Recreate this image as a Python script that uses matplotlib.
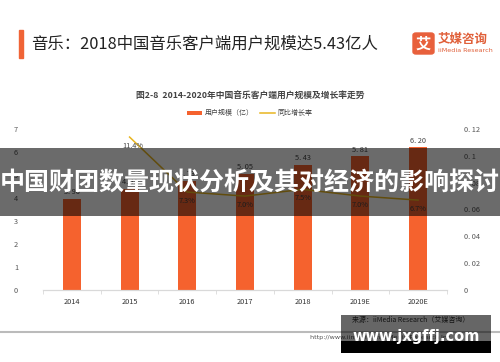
import matplotlib.pyplot as plt
import matplotlib.patches as mpatches
import numpy as np

plt.rcParams['font.family'] = ['Noto Sans CJK SC', 'DejaVu Sans']

# data
years = ['2014', '2015', '2016', '2017', '2018', '2019E', '2020E']
users = [3.96, 4.41, 4.73, 5.05, 5.43, 5.81, 6.20]          # 亿
growth_years = ['2015', '2016', '2017', '2018', '2019E', '2020E']
growth = [0.114, 0.073, 0.070, 0.075, 0.070, 0.067]
growth_labels = ['11.4%', '7.3%', '7.0%', '7.5%', '7.0%', '6.7%']

bar_color = '#F5622E'
line_color = '#E8B520'
W, H = 500, 362

fig = plt.figure(figsize=(5, 3.62), dpi=100)
fig.patch.set_facecolor('white')

def fx(px):
    return px / W

def fy(py):
    return 1 - py / H

# header
fig.patches.append(mpatches.Rectangle((fx(19), fy(58)), fx(4), 28 / H, transform=fig.transFigure,
                                      color='#F06436', zorder=2))
fig.text(fx(31), fy(44), '音乐：2018中国音乐客户端用户规模达5.43亿人', fontsize=11.8,
         fontweight='medium', color='#222222', va='center', ha='left')

# logo
fig.patches.append(mpatches.FancyBboxPatch((fx(413), fy(54)), fx(21), 21 / H,
                                           boxstyle='round,pad=0,rounding_size=0.006',
                                           transform=fig.transFigure, color='#E8603C'))
fig.text(fx(423.5), fy(43.5), '艾', fontsize=11, fontweight='bold', color='white', ha='center', va='center')
fig.text(fx(438), fy(39), '艾媒咨询', fontsize=9, fontweight='bold', color='#E0603A', ha='left', va='center')
fig.text(fx(438), fy(51), 'iiMedia Research', fontsize=4.6, color='#E0603A', ha='left', va='center',
         family='DejaVu Sans')

# chart title and legend
fig.text(0.5, fy(95), '图2-8  2014-2020年中国音乐客户端用户规模及增长率走势', fontsize=6.3,
         fontweight='bold', color='#444444', ha='center', va='center')

ax = fig.add_axes([fx(43), fy(290), fx(447 - 43), (290 - 129) / H])
ax2 = ax.twinx()

x = np.arange(len(years))
bars = ax.bar(x, users, width=0.31, color=bar_color, zorder=2, label='用户规模（亿）')
for xi, v in zip(x, users):
    ax.text(xi, v + 0.12, f'{v:.2f}'.replace('.', '. '), ha='center', va='bottom',
            fontsize=5.3, color='#444444')

gx = [years.index(g) for g in growth_years]
line, = ax2.plot(gx, growth, color=line_color, lw=1.1, zorder=3, label='同比增长率')
for xi, v, lab in zip(gx, growth, growth_labels):
    ax2.text(xi + (0.05 if xi == 1 else 0), v - 0.0035, lab, ha='center', va='top',
             fontsize=5.3, color='#444444')

ax.set_xlim(-0.5, len(years) - 0.5)
ax.set_ylim(0, 7)
ax2.set_ylim(0, 0.12)
ax.set_yticks(range(0, 8))
ax2.set_yticks([0, 0.02, 0.04, 0.06, 0.08, 0.1, 0.12])
ax2.set_yticklabels(['0', '0. 02', '0. 04', '0. 06', '0. 08', '0. 1', '0. 12'])
ax.set_xticks(x)
ax.set_xticklabels(years)
ax.set_xticks(np.arange(-0.5, len(years)), minor=True)

for a in (ax, ax2):
    for s in ('top', 'left', 'right'):
        a.spines[s].set_visible(False)
    a.spines['bottom'].set_color('#D9D9D9')
    a.tick_params(axis='y', length=0, labelsize=5.3, labelcolor='#555555')
ax.tick_params(axis='x', which='major', length=0, labelsize=5.3, labelcolor='#333333', pad=6)
ax.tick_params(axis='x', which='minor', length=3, color='#D9D9D9')
ax.tick_params(axis='y', pad=18)
ax2.tick_params(axis='y', pad=12)

fig.legend(handles=[bars, line], loc='center', bbox_to_anchor=(0.5, fy(113)), ncol=2, frameon=False,
           fontsize=5, handlelength=2.2, handleheight=0.5, columnspacing=0.8, handletextpad=0.4,
           labelcolor='#444444')

# footer
fig.lines.append(plt.Line2D([0, 1], [fy(332), fy(332)], transform=fig.transFigure,
                            color='#BBBBBB', lw=1.5))
fig.text(fx(352), fy(320), '来源：iiMedia Research（艾媒咨询）', fontsize=5, color='#333333',
         ha='left', va='center')
fig.text(fx(310), fy(338), 'http://www.iimedia.cn  iiMedia Research Inc', fontsize=4.6, color='#555555',
         ha='left', va='center', family='DejaVu Sans')

# overlays
fig.patches.append(mpatches.Rectangle((0, fy(216)), 1, (216 - 148) / H, transform=fig.transFigure,
                                      color='black', alpha=0.58, lw=0, zorder=10))
fig.text(0.5, fy(183), '中国财团数量现状分析及其对经济的影响探讨', fontsize=18, fontweight='bold',
         color='white', ha='center', va='center', zorder=11)
fig.patches.append(mpatches.Rectangle((fx(341), fy(341)), fx(150), (341 - 315) / H, transform=fig.transFigure,
                                      color='black', alpha=0.6, lw=0, zorder=10))
fig.patches.append(mpatches.Rectangle((fx(341), fy(353)), fx(150), (353 - 341) / H, transform=fig.transFigure,
                                      color='black', lw=0, zorder=10))
fig.text(fx(416), fy(337), 'www.jxgffj.com', fontsize=10.5, fontweight='bold', color='white',
         ha='center', va='center', family='DejaVu Sans', zorder=11)

fig.savefig('out.png', dpi=100)
